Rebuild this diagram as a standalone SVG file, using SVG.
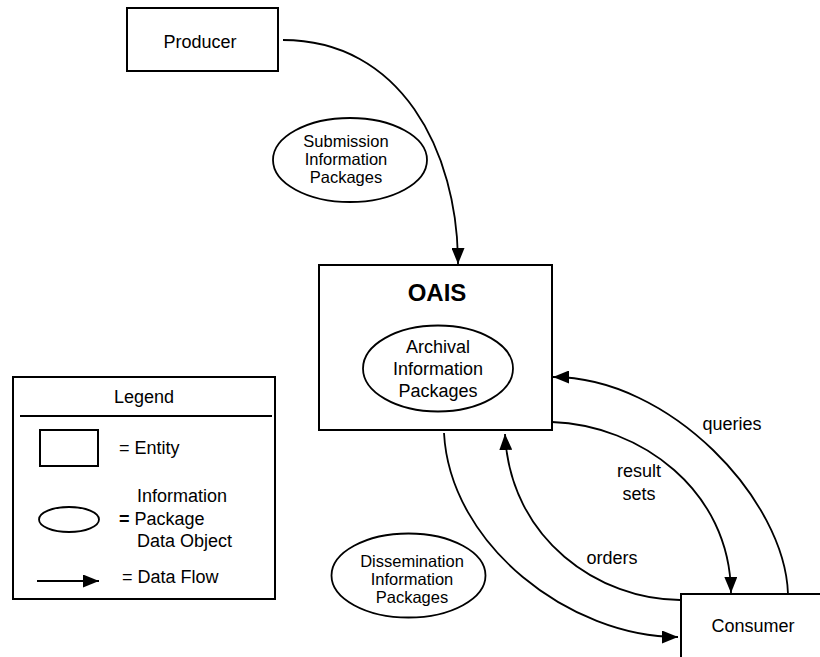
<svg xmlns="http://www.w3.org/2000/svg" width="820" height="657" viewBox="0 0 820 657">
<style>
text{font-family:"Liberation Sans",Arial,sans-serif;font-size:18px;fill:#000}
.c{text-anchor:middle}
.t{font-size:16.5px}
.box{fill:#fff;stroke:#000;stroke-width:2}
.ell{fill:#fff;stroke:#000;stroke-width:1.8}
.flow{fill:none;stroke:#000;stroke-width:1.8;marker-end:url(#ah)}
</style>
<defs>
<marker id="ah" viewBox="0 0 16 13" refX="16" refY="6.5" markerWidth="16" markerHeight="13" markerUnits="userSpaceOnUse" orient="auto">
<path d="M0,0 L16,6.5 L0,13 z" fill="#000"/>
</marker>
</defs>
<rect width="820" height="657" fill="#fff"/>
<g id="connectors">
<path class="flow" d="M283,40 C400,40 458,150 458,264"/>
<path class="flow" d="M788,594 C785,500 670,377 553,377"/>
<path class="flow" d="M552,422 C640,425 730,490 731,593"/>
<path class="flow" d="M680,600 C600,600 510,540 505,434"/>
<path class="flow" d="M444,433 C450,545 570,637 678,637"/>
<text class="c" x="732" y="430">queries</text>
<text class="c" x="639" y="477">result</text>
<text class="c" x="639" y="500">sets</text>
<text class="c" x="612" y="564">orders</text>
</g>
<g id="producer">
<rect class="box" x="127" y="8" width="151" height="63"/>
<text class="c" x="200" y="48">Producer</text>
</g>
<g id="sip">
<ellipse class="ell" cx="350" cy="160" rx="77" ry="42"/>
<text class="c t" x="346" y="147">Submission</text>
<text class="c t" x="346" y="165">Information</text>
<text class="c t" x="346" y="183">Packages</text>
</g>
<g id="oais">
<rect class="box" x="319" y="265" width="233" height="165"/>
<text class="c" x="437" y="301" style="font-size:24px;font-weight:bold">OAIS</text>
<ellipse class="ell" cx="438" cy="368.5" rx="75" ry="43"/>
<text class="c" x="438" y="353">Archival</text>
<text class="c" x="438" y="375">Information</text>
<text class="c" x="438" y="397">Packages</text>
</g>
<g id="dip">
<ellipse class="ell" cx="408.5" cy="575.5" rx="77" ry="42"/>
<text class="c t" x="412" y="567">Dissemination</text>
<text class="c t" x="412" y="585">Information</text>
<text class="c t" x="412" y="603">Packages</text>
</g>
<g id="consumer">
<rect class="box" x="681" y="594" width="160" height="80"/>
<text class="c" x="753" y="632">Consumer</text>
</g>
<g id="legend">
<rect class="box" x="13" y="377" width="262" height="222"/>
<text class="c" x="144" y="403">Legend</text>
<line x1="20" y1="416" x2="272" y2="416" stroke="#000" stroke-width="2"/>
<rect class="box" x="40" y="430" width="58" height="36"/>
<text x="119" y="454">= Entity</text>
<ellipse class="ell" cx="69" cy="519.5" rx="30" ry="12.5"/>
<text x="137" y="502">Information</text>
<text x="119" y="525"><tspan style="font-weight:bold">=</tspan> Package</text>
<text x="137" y="547">Data Object</text>
<path class="flow" d="M37,581 L99,581"/>
<text x="122" y="583">= Data Flow</text>
</g>
</svg>
